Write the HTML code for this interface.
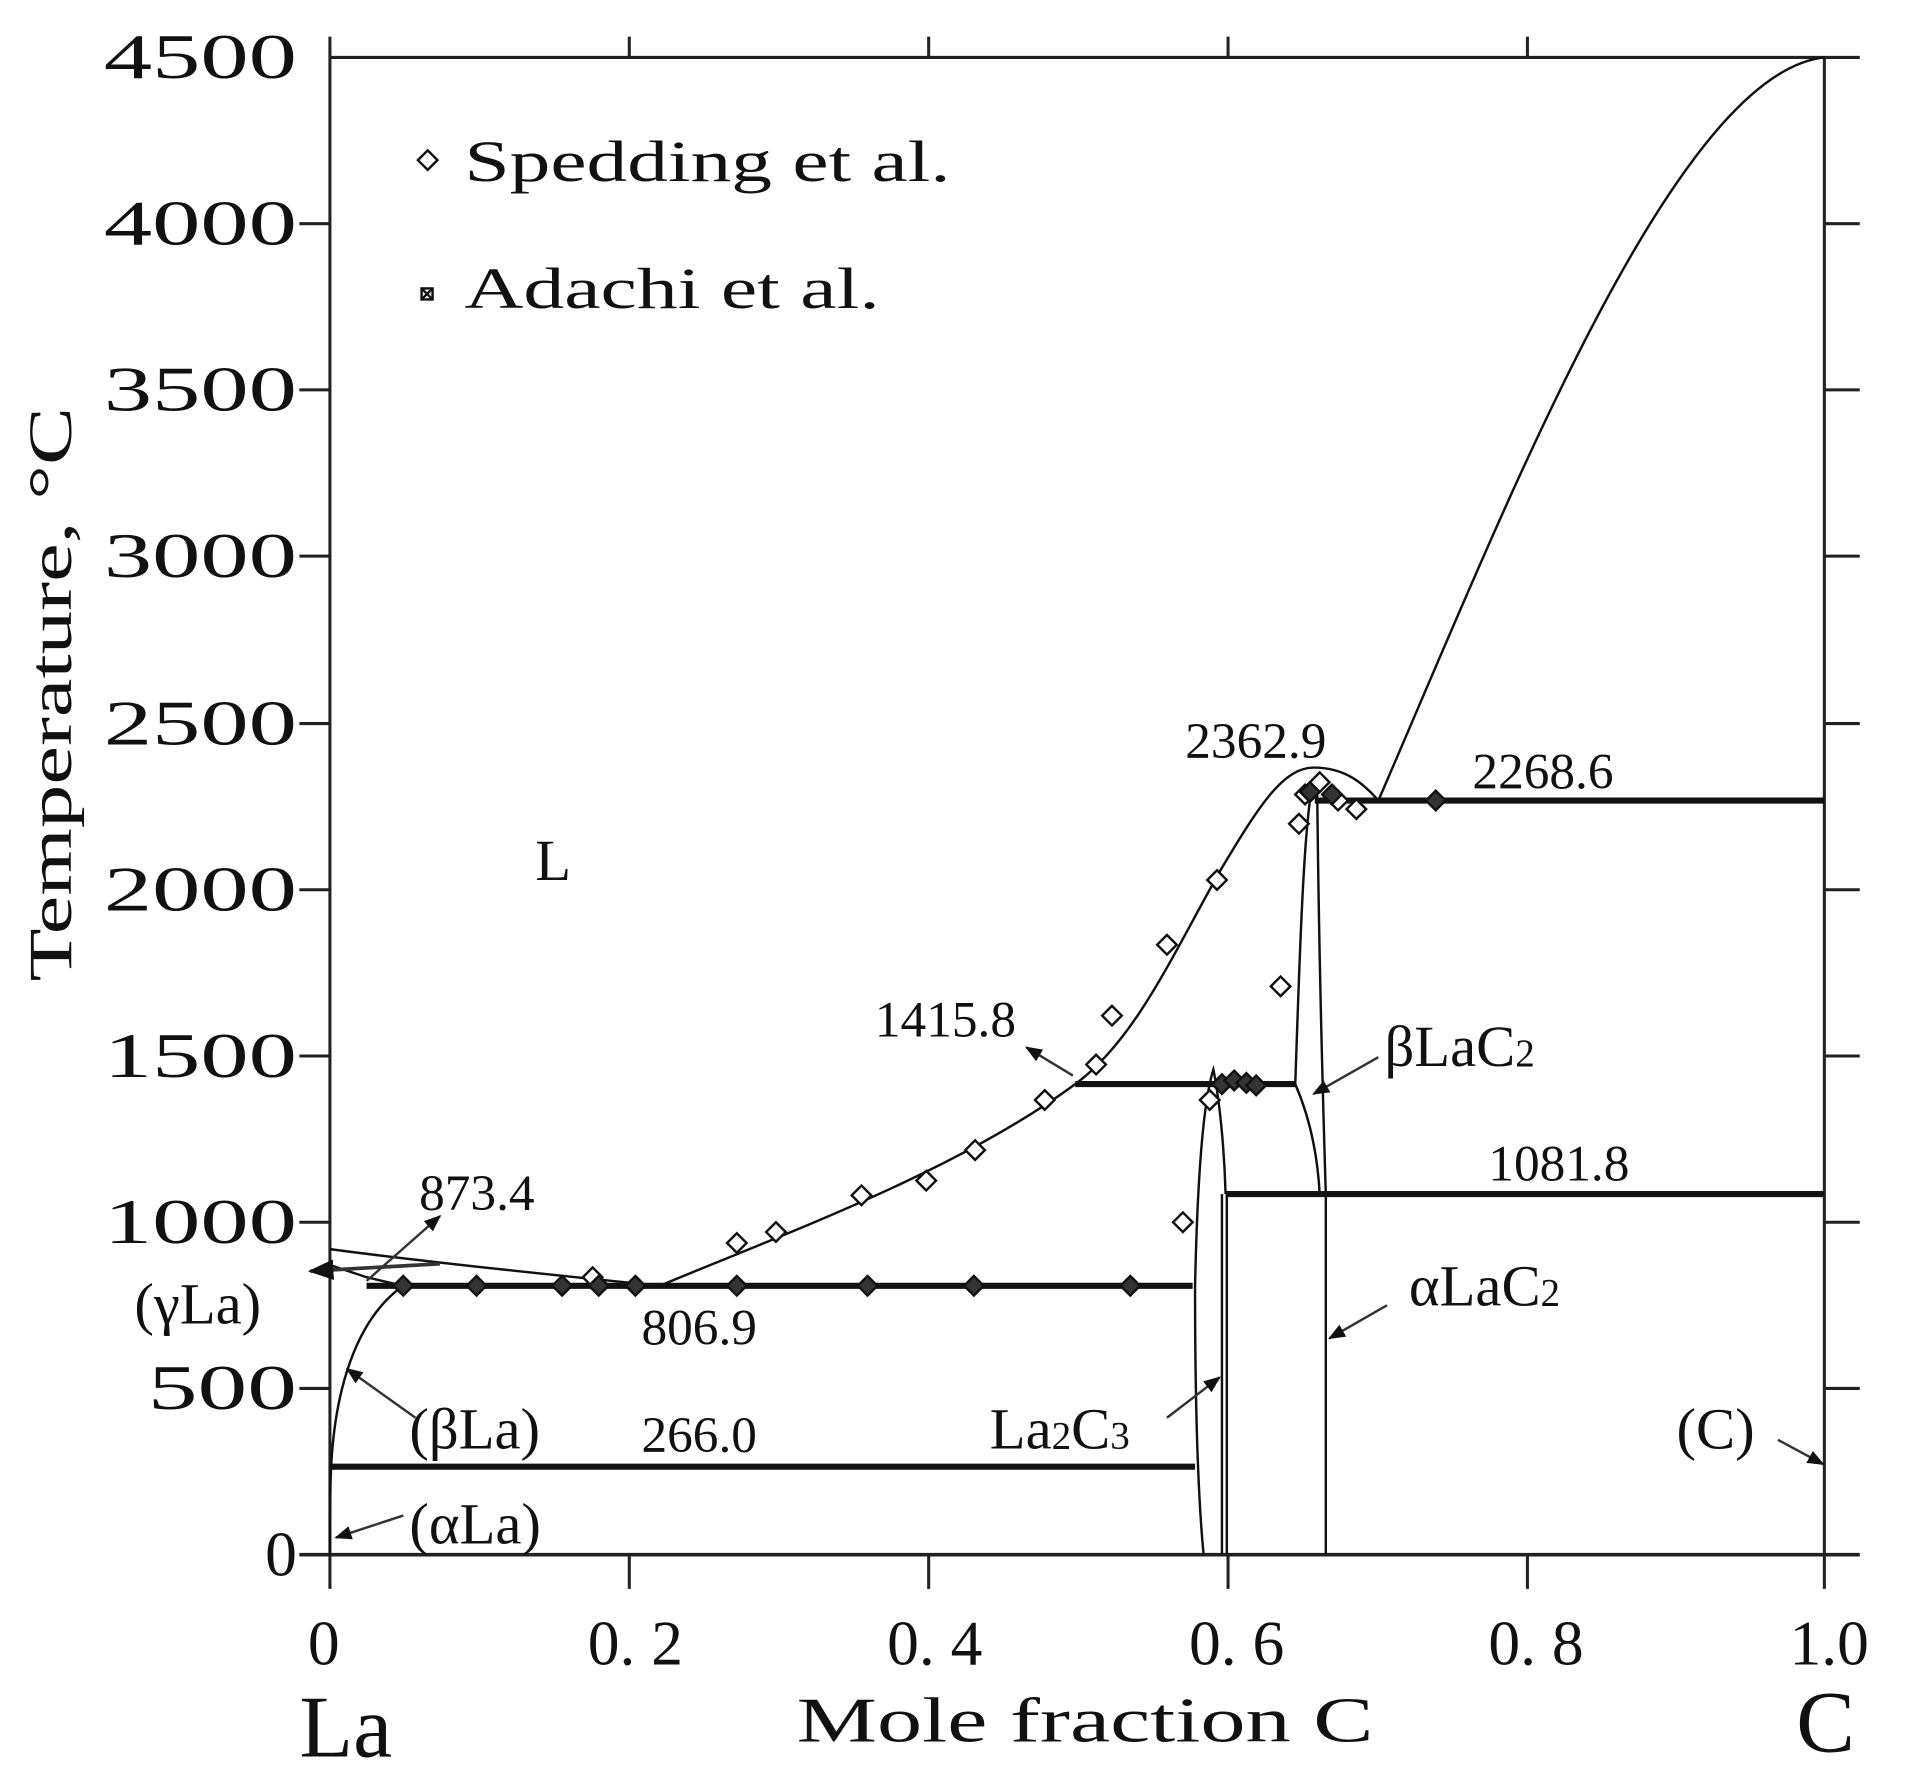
<!DOCTYPE html>
<html><head><meta charset="utf-8"><style>
html,body{margin:0;padding:0;background:#fff;}
svg{display:block;}
text{font-family:"Liberation Serif",serif;fill:#111;}
</style></head><body>
<svg width="1916" height="1782" viewBox="0 0 1568 1458" preserveAspectRatio="none" xmlns="http://www.w3.org/2000/svg">
<defs>
<marker id="ar" viewBox="0 0 10 10" refX="9" refY="5" markerWidth="7" markerHeight="7" orient="auto"><path d="M0,1 L10,5 L0,9 z" fill="#111"/></marker>
</defs>
<g stroke="#222" fill="none" stroke-width="2.5">
<line x1="270" y1="47" x2="1522" y2="47"/>
<line x1="245" y1="1272" x2="1522" y2="1272" stroke-width="3"/>
<line x1="270" y1="30" x2="270" y2="1300"/>
<line x1="1493" y1="47" x2="1493" y2="1300"/>
<line x1="515" y1="30" x2="515" y2="47"/><line x1="760" y1="30" x2="760" y2="47"/><line x1="1005" y1="30" x2="1005" y2="47"/><line x1="1250" y1="30" x2="1250" y2="47"/>
<line x1="515" y1="1272" x2="515" y2="1300"/><line x1="760" y1="1272" x2="760" y2="1300"/><line x1="1005" y1="1272" x2="1005" y2="1300"/><line x1="1250" y1="1272" x2="1250" y2="1300"/>
<line x1="245" y1="183" x2="270" y2="183"/><line x1="245" y1="319" x2="270" y2="319"/><line x1="245" y1="455" x2="270" y2="455"/><line x1="245" y1="592" x2="270" y2="592"/><line x1="245" y1="728" x2="270" y2="728"/><line x1="245" y1="864" x2="270" y2="864"/><line x1="245" y1="1000" x2="270" y2="1000"/><line x1="245" y1="1136" x2="270" y2="1136"/>
<line x1="1493" y1="183" x2="1522" y2="183"/><line x1="1493" y1="319" x2="1522" y2="319"/><line x1="1493" y1="455" x2="1522" y2="455"/><line x1="1493" y1="592" x2="1522" y2="592"/><line x1="1493" y1="728" x2="1522" y2="728"/><line x1="1493" y1="864" x2="1522" y2="864"/><line x1="1493" y1="1000" x2="1522" y2="1000"/><line x1="1493" y1="1136" x2="1522" y2="1136"/>
</g>
<g stroke="#111" fill="none" stroke-width="2">
<path d="M1128,655 C1230,420 1370,60 1493,47"/>
<path d="M540,1052 C640,1010 780,960 880,887 C930,850 960,780 1000,710 C1030,660 1050,628 1075,628 C1100,628 1115,640 1128,655"/>
<path d="M270,1022 C330,1030 420,1040 540,1052"/>
<path d="M270,1035 L300,1045 L330,1052"/>
<path d="M271,1200 C274,1140 290,1080 330,1052"/>
<path d="M270,1272 C270,1240 270,1220 271,1200"/>
<path d="M985,1272 C980,1220 978,1150 978,1052 C980,960 985,900 993,875 C998,900 1002,940 1003,977"/>
<line x1="1000" y1="977" x2="1000" y2="1272"/>
<line x1="1004" y1="977" x2="1004" y2="1272"/>
<path d="M1060,887 C1063,800 1066,700 1072,655"/>
<path d="M1078,650 C1079,750 1082,880 1085,977"/>
<path d="M1060,887 C1070,910 1078,940 1080,977"/>
<line x1="1085" y1="977" x2="1085" y2="1272"/>
</g>
<g stroke="#111" stroke-width="5">
<line x1="300" y1="1052" x2="976" y2="1052"/>
<line x1="270" y1="1200" x2="978" y2="1200"/>
<line x1="880" y1="887" x2="1060" y2="887"/>
<line x1="1003" y1="977" x2="1493" y2="977"/>
<line x1="1076" y1="655" x2="1493" y2="655"/>
</g>
<g stroke="#333" stroke-width="2" fill="none" marker-end="url(#ar)">
<line x1="878" y1="880" x2="840" y2="857"/>
<line x1="1128" y1="865" x2="1075" y2="895"/>
<line x1="1135" y1="1068" x2="1088" y2="1095"/>
<line x1="955" y1="1160" x2="998" y2="1127"/>
<line x1="1455" y1="1178" x2="1492" y2="1198"/>
<line x1="330" y1="1240" x2="275" y2="1258"/>
<line x1="340" y1="1160" x2="284" y2="1120"/>
<line x1="300" y1="1048" x2="360" y2="995"/>
<line x1="360" y1="1034" x2="254" y2="1040" stroke-width="3"/>
</g>
<g stroke="#111" stroke-width="2" fill="#fff">
<path d="M350,123 l8,8 l-8,8 l-8,-8z"/>
<path d="M603,1009 l8,8 l-8,8 l-8,-8z"/><path d="M635,1000 l8,8 l-8,8 l-8,-8z"/><path d="M705,970 l8,8 l-8,8 l-8,-8z"/><path d="M758,958 l8,8 l-8,8 l-8,-8z"/><path d="M798,933 l8,8 l-8,8 l-8,-8z"/><path d="M855,892 l8,8 l-8,8 l-8,-8z"/><path d="M897,863 l8,8 l-8,8 l-8,-8z"/><path d="M910,823 l8,8 l-8,8 l-8,-8z"/><path d="M955,765 l8,8 l-8,8 l-8,-8z"/><path d="M996,712 l8,8 l-8,8 l-8,-8z"/><path d="M1048,799 l8,8 l-8,8 l-8,-8z"/><path d="M968,992 l8,8 l-8,8 l-8,-8z"/><path d="M1063,666 l8,8 l-8,8 l-8,-8z"/><path d="M1068,642 l8,8 l-8,8 l-8,-8z"/><path d="M1080,632 l8,8 l-8,8 l-8,-8z"/><path d="M1095,647 l8,8 l-8,8 l-8,-8z"/><path d="M1110,654 l8,8 l-8,8 l-8,-8z"/><path d="M485,1037 l8,8 l-8,8 l-8,-8z"/><path d="M990,892 l8,8 l-8,8 l-8,-8z"/>
</g>
<g stroke="#111" stroke-width="2" fill="#333">
<path d="M330,1044 l8,8 l-8,8 l-8,-8z"/><path d="M390,1044 l8,8 l-8,8 l-8,-8z"/><path d="M460,1044 l8,8 l-8,8 l-8,-8z"/><path d="M490,1044 l8,8 l-8,8 l-8,-8z"/><path d="M520,1044 l8,8 l-8,8 l-8,-8z"/><path d="M603,1044 l8,8 l-8,8 l-8,-8z"/><path d="M710,1044 l8,8 l-8,8 l-8,-8z"/><path d="M797,1044 l8,8 l-8,8 l-8,-8z"/><path d="M925,1044 l8,8 l-8,8 l-8,-8z"/>
<path d="M1000,879 l8,8 l-8,8 l-8,-8z"/><path d="M1010,876 l8,8 l-8,8 l-8,-8z"/><path d="M1020,878 l8,8 l-8,8 l-8,-8z"/><path d="M1028,880 l8,8 l-8,8 l-8,-8z"/>
<path d="M1175,647 l8,8 l-8,8 l-8,-8z"/><path d="M1072,640 l8,8 l-8,8 l-8,-8z"/><path d="M1090,642 l8,8 l-8,8 l-8,-8z"/>
</g>
<g stroke="#111" stroke-width="2" fill="none">
<rect x="345" y="236" width="9" height="9"/><line x1="345" y1="236" x2="354" y2="245"/><line x1="354" y1="236" x2="345" y2="245"/>
</g>
<g font-size="52" text-anchor="end">
<text x="243" y="64" textLength="158" lengthAdjust="spacingAndGlyphs">4500</text>
<text x="243" y="200" textLength="158" lengthAdjust="spacingAndGlyphs">4000</text>
<text x="243" y="336" textLength="158" lengthAdjust="spacingAndGlyphs">3500</text>
<text x="243" y="472" textLength="158" lengthAdjust="spacingAndGlyphs">3000</text>
<text x="243" y="609" textLength="158" lengthAdjust="spacingAndGlyphs">2500</text>
<text x="243" y="745" textLength="158" lengthAdjust="spacingAndGlyphs">2000</text>
<text x="243" y="881" textLength="158" lengthAdjust="spacingAndGlyphs">1500</text>
<text x="243" y="1017" textLength="158" lengthAdjust="spacingAndGlyphs">1000</text>
<text x="243" y="1153" textLength="122" lengthAdjust="spacingAndGlyphs">500</text>
<text x="243" y="1289">0</text>
</g>
<g font-size="52" text-anchor="middle">
<text x="265" y="1362">0</text>
<text x="520" y="1362">0. 2</text>
<text x="765" y="1362">0. 4</text>
<text x="1012" y="1362">0. 6</text>
<text x="1257" y="1362">0. 8</text>
<text x="1497" y="1362">1.0</text>
</g>
<text x="245" y="1437" font-size="72">La</text>
<text x="1470" y="1433" font-size="72">C</text>
<text x="652" y="1425" font-size="52" textLength="472" lengthAdjust="spacingAndGlyphs">Mole fraction C</text>
<text transform="translate(58,568) rotate(-90)" font-size="50" text-anchor="middle" textLength="470" lengthAdjust="spacingAndGlyphs">Temperature, °C</text>
<g font-size="48">
<text x="380" y="148" textLength="398" lengthAdjust="spacingAndGlyphs">Spedding et al.</text>
<text x="380" y="252" textLength="340" lengthAdjust="spacingAndGlyphs">Adachi et al.</text>
<text x="438" y="720">L</text>
<text x="970" y="620" font-size="42">2362.9</text>
<text x="1205" y="645" font-size="42">2268.6</text>
<text x="716" y="848" font-size="42">1415.8</text>
<text x="1133" y="872">βLaC<tspan font-size="32">2</tspan></text>
<text x="1218" y="966" font-size="42">1081.8</text>
<text x="1153" y="1068">αLaC<tspan font-size="32">2</tspan></text>
<text x="343" y="990" font-size="42">873.4</text>
<text x="110" y="1083">(γLa)</text>
<text x="525" y="1100" font-size="42">806.9</text>
<text x="335" y="1185">(βLa)</text>
<text x="525" y="1188" font-size="42">266.0</text>
<text x="810" y="1185">La<tspan font-size="32">2</tspan>C<tspan font-size="32">3</tspan></text>
<text x="1372" y="1185">(C)</text>
<text x="335" y="1263">(αLa)</text>
</g>
</svg>
</body></html>
